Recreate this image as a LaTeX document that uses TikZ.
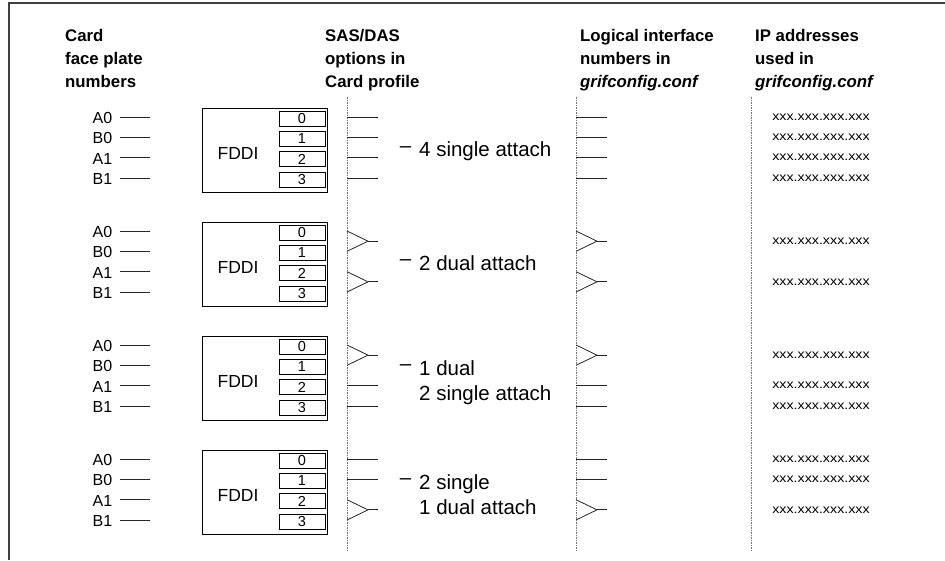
\documentclass[tikz,border=0pt]{standalone}
\usepackage{fontspec}
\setmainfont{Liberation Sans}
\usepackage{graphicx}
\newcommand\dsh{\llap{\raisebox{4.4pt}{\textendash}\hspace{8pt}}}
\newcommand\sasline[3]{%
  \coordinate (#3a) at (#1,#2);
  \coordinate (#3b) at (#1+31,#2);
  \draw[wire] (#3a) -- (#3b);}
\newcommand\dasline[3]{%
  \coordinate (#3u) at (#1,#2);
  \coordinate (#3l) at (#1,#2+20.33);
  \coordinate (#3t) at (#1+21,#2+10.17);
  \coordinate (#3e) at (#1+31,#2+10.17);
  \draw[wire] (#3u) -- (#3t) -- (#3l);
  \draw[wire] (#3t) -- (#3e);}
\begin{document}
\begin{tikzpicture}[x=1pt,y=-1pt,
  wire/.style={line width=0.8pt, black!85},
  guide/.style={line width=0.6pt, black!55, dash pattern=on 1.5pt off 1pt},
  frame/.style={line width=1.2pt, black!75},
  hdr/.style={inner sep=0pt, anchor=base west, font=\bfseries\fontsize{16.8}{23}\selectfont},
  plate/.style={inner sep=0pt, anchor=east, font=\fontsize{16}{19}\selectfont},
  card/.style={draw, line width=0.8pt, minimum width=125pt, minimum height=84pt, inner sep=0pt},
  port/.style={draw, line width=0.8pt, minimum width=46pt, minimum height=15pt, inner sep=0pt, font=\fontsize{14.5}{16}\selectfont},
  fddi/.style={inner sep=0pt, font=\fontsize{17.5}{20}\selectfont},
  mode/.style={inner sep=0pt, anchor=base west, font=\fontsize{20.5}{25}\selectfont},
  ip/.style={inner sep=0pt, font=\fontsize{12.3}{14}\selectfont}]
\useasboundingbox (0,0) rectangle (945,560);
% frame
\coordinate (fr1) at (945,3);
\coordinate (fr2) at (9,3);
\coordinate (fr3) at (9,560);
\draw[frame] (fr1) -- (fr2) -- (fr3);
% headers
\node[hdr] (h0) at (65,41) {\begin{tabular}[t]{@{}l@{}}Card\\face plate\\numbers\end{tabular}};
\node[hdr] (h1) at (325,41) {\begin{tabular}[t]{@{}l@{}}SAS/DAS\\options in\\Card profile\end{tabular}};
\node[hdr] (h2) at (580,41) {\begin{tabular}[t]{@{}l@{}}Logical interface\\numbers in\\\textit{grifconfig.conf}\end{tabular}};
\node[hdr] (h3) at (755,41) {\begin{tabular}[t]{@{}l@{}}IP addresses\\used in\\\textit{grifconfig.conf}\end{tabular}};
% dotted guides
\foreach \X/\k in {347/a,576/b,751/c} {
  \coordinate (g\k1) at (\X,97);
  \coordinate (g\k2) at (\X,552);
  \draw[guide] (g\k1) -- (g\k2);
}
% cards
\foreach \g/\b in {0/117,1/231,2/345,3/459} {
  \node[card] (card\g) at (264.5,\b+33) {};
  \node[fddi] (fddi\g) at (238,\b+36) {FDDI};
  \foreach \i/\n in {0/A0,1/B0,2/A1,3/B1} {
    \pgfmathsetmacro\r{\b+20.33*\i}
    \node[plate] (pl\g\i) at (112.5,\r+1) {\n};
    \coordinate (fa\g\i) at (120,\r);
    \coordinate (fb\g\i) at (150,\r);
    \draw[wire] (fa\g\i) -- (fb\g\i);
    \node[port] (port\g\i) at (302,\r+1.5) {\i};
  }
}
% attachments
\foreach \X/\k in {347/s,576/l} {
  \foreach \i in {0,...,3} {\sasline{\X}{117+20.33*\i}{\k0\i}}
  \dasline{\X}{231}{\k10}
  \dasline{\X}{271.67}{\k12}
  \dasline{\X}{345}{\k20}
  \sasline{\X}{385.67}{\k22}
  \sasline{\X}{406}{\k23}
  \sasline{\X}{459}{\k30}
  \sasline{\X}{479.33}{\k31}
  \dasline{\X}{499.67}{\k32}
}
% mode labels
\node[mode] (m0) at (419,156.5) {\dsh 4 single attach};
\node[mode] (m1) at (419,270) {\dsh 2 dual attach};
\node[mode] (m2) at (419,375) {\begin{tabular}[t]{@{}l@{}}\dsh 1 dual\\2 single attach\end{tabular}};
\node[mode] (m3) at (419,489) {\begin{tabular}[t]{@{}l@{}}\dsh 2 single\\1 dual attach\end{tabular}};
% IP addresses
\foreach \y [count=\n] in {117,137.33,157.67,178,241.17,281.83,355.17,385.67,406,459,479.33,509.83}
  \node[ip] (ip\n) at (821,\y) {\scalebox{1.16}[1]{xxx.xxx.xxx.xxx}};
\end{tikzpicture}
\end{document}
